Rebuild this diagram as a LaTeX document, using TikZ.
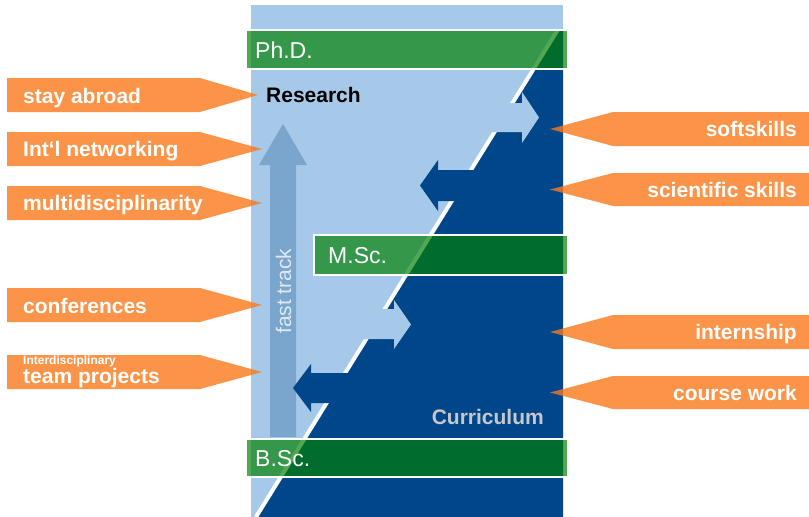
\documentclass[tikz,border=0pt]{standalone}
\usepackage{fontspec}
\setmainfont{Liberation Sans}

\definecolor{lightcol}{RGB}{166,201,233}
\definecolor{darkcol}{RGB}{0,70,138}
\definecolor{trackcol}{RGB}{122,166,206}
\definecolor{barcol}{RGB}{0,128,0}
\definecolor{bannercol}{RGB}{250,121,27}
\definecolor{curcol}{RGB}{200,200,200}
\definecolor{trackfont}{RGB}{222,233,245}

\tikzset{
    banner/.style={fill=bannercol, fill opacity=0.8},
    degreebar/.style={draw=white, line width=1.5pt, fill=barcol, fill opacity=0.68},
    bartext/.style={text=white, inner sep=0pt, font=\fontsize{23}{27}\selectfont},
    bannertext/.style={text=white, inner sep=0pt, font=\fontsize{21}{25}\selectfont\bfseries}
}

\begin{document}
\begin{tikzpicture}[x=1pt, y=-1pt]
        \useasboundingbox (0,0) rectangle (809,517);

        % column: research side and curriculum side
        \fill[lightcol] (251,5) rectangle (563,517);
        \fill[darkcol] (557.7,29) -- (563,29) -- (563,517) -- (256,517) -- cycle;
        \draw[white, line width=4pt] (557.7,30) -- (256,517);

        % fast track
        \fill[trackcol] (270,437) -- (270,165) -- (259,165) -- (283,124)
            -- (307,165) -- (296,165) -- (296,437) -- cycle;

        % exchange arrows
        \begin{scope}[lightcol]
            \fill (480,103) -- (522,103) -- (522,92) -- (539,117.5) -- (522,143) -- (522,132) -- (480,132) -- cycle;
            \fill (355,309) -- (394,309) -- (394,300) -- (411,324.5) -- (394,349) -- (394,339) -- (355,339) -- cycle;
        \end{scope}
        \begin{scope}[darkcol]
            \fill (480,170) -- (438,170) -- (438,160) -- (420,185.5) -- (438,211) -- (438,201) -- (480,201) -- cycle;
            \fill (360,373) -- (311,373) -- (311,364) -- (293,388) -- (311,412) -- (311,403) -- (360,403) -- cycle;
        \end{scope}

        % degrees
        \draw[degreebar] (246,30) rectangle (568,69);
        \draw[degreebar] (314,235) rectangle (568,275);
        \draw[degreebar] (246,439) rectangle (568,477);

        \node[bartext, anchor=base west] (phd) at (255,58) {Ph.D.};
        \node[bartext, anchor=base west] (msc) at (328,263) {M.Sc.};
        \node[bartext, anchor=base west] (bsc) at (255,466) {B.Sc.};

        \node[inner sep=0pt, anchor=base west, font=\fontsize{21}{25}\selectfont\bfseries] (research) at (266,102) {Research};
        \node[inner sep=0pt, anchor=base east, text=curcol, font=\fontsize{21}{25}\selectfont\bfseries] (curriculum) at (544,424) {Curriculum};
        \node[inner sep=0pt, anchor=base west, rotate=90, text=trackfont, font=\fontsize{21}{25}\selectfont] (track) at (291,334) {fast track};

        % left banners
        \begin{scope}[every path/.style={banner}]
            \fill (7,78) -- (200,78) -- (258,95) -- (200,112) -- (7,112) -- cycle;
            \fill (7,132) -- (200,132) -- (262,149) -- (200,166) -- (7,166) -- cycle;
            \fill (7,186) -- (200,186) -- (262,203) -- (200,220) -- (7,220) -- cycle;
            \fill (7,288) -- (200,288) -- (262,305) -- (200,322) -- (7,322) -- cycle;
            \fill (7,355) -- (200,355) -- (262,372) -- (200,389) -- (7,389) -- cycle;
        \end{scope}

        % right banners
        \begin{scope}[every path/.style={banner}]
            \fill (809,112) -- (613,112) -- (550,129) -- (613,146) -- (809,146) -- cycle;
            \fill (809,173) -- (613,173) -- (550,189.5) -- (613,206) -- (809,206) -- cycle;
            \fill (809,315) -- (613,315) -- (550,332) -- (613,349) -- (809,349) -- cycle;
            \fill (809,376) -- (613,376) -- (550,392.5) -- (613,409) -- (809,409) -- cycle;
        \end{scope}

        \begin{scope}[every node/.style={bannertext, anchor=base west}]
            \node (abroad) at (23,103) {stay abroad};
            \node (network) at (23,156) {Int‘l networking};
            \node (multi) at (23,210) {multidisciplinarity};
            \node (conf) at (23,313) {conferences};
            \node (team) at (23,383) {team projects};
            \node[font=\fontsize{12}{14}\selectfont\bfseries] (inter) at (23,364) {Interdisciplinary};
        \end{scope}

        \begin{scope}[every node/.style={bannertext, anchor=base east}]
            \node (soft) at (797,136) {softskills};
            \node (science) at (797,197) {scientific skills};
            \node (intern) at (797,339) {internship};
            \node (course) at (797,400) {course work};
        \end{scope}
\end{tikzpicture}
\end{document}
